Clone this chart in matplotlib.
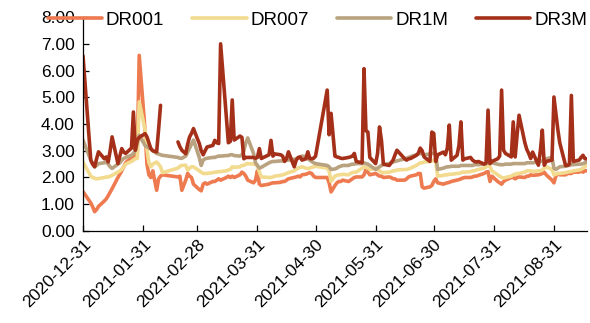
import numpy as np
import pandas as pd
import matplotlib
matplotlib.use("Agg")
import matplotlib.pyplot as plt
from matplotlib.ticker import FormatStrFormatter, MultipleLocator

plt.rcParams["font.family"] = ["Liberation Sans", "DejaVu Sans"]

# Trading calendar: weekdays minus exchange holidays, plus make-up weekend sessions
holidays = ["2021-01-01", "2021-02-11", "2021-02-12", "2021-02-15", "2021-02-16",
            "2021-02-17", "2021-04-05", "2021-05-03", "2021-05-04", "2021-05-05",
            "2021-06-14"]
weekend_sessions = ["2021-02-07", "2021-02-20", "2021-04-25", "2021-05-08"]
dates = pd.bdate_range("2020-12-31", "2021-09-17")
dates = dates.difference(pd.to_datetime(holidays)).union(pd.to_datetime(weekend_sessions))

dr001 = [
    1.47,
    1.05, 0.90, 0.72, 0.80, 0.92, 1.12, 1.20, 1.32, 1.45, 1.58, 2.00, 2.12, 2.25, 2.40,
    2.55, 2.75, 2.80, 2.83, 2.85, 6.57,
    3.77, 2.50, 2.10, 2.00, 2.25, 1.52, 1.95, 2.05, 2.10, 2.02, 2.05, 1.52, 1.90, 2.15,
    2.05, 2.00, 1.75,
    1.55, 1.50, 1.75, 1.80, 1.75, 1.85, 1.85, 1.90, 1.95, 1.90, 2.00, 2.05, 2.00, 2.05,
    2.00, 2.10, 2.20, 2.15, 2.05, 1.90, 1.80, 1.90, 2.25,
    1.75, 1.70, 1.75, 1.78, 1.80, 1.80, 1.82, 1.85, 1.85, 1.90, 1.95, 2.00, 2.02, 2.05,
    2.02, 2.10, 2.12, 2.15, 2.18, 2.15, 2.05, 2.00,
    2.00, 1.80, 1.46, 1.70, 1.80, 1.85, 1.85, 1.90, 1.85, 1.90, 1.95, 2.00, 2.02, 2.02,
    2.10, 2.30, 2.20, 2.10, 2.15,
    2.10, 2.05, 2.05, 2.00, 2.02, 2.00, 1.95, 1.95, 1.90, 1.90, 1.95, 2.02, 2.05, 2.10,
    2.15, 2.15, 1.65, 1.60, 1.65, 1.70, 1.85,
    1.95, 1.80, 1.75, 1.78, 1.80, 1.82, 1.85, 1.90, 1.92, 1.95, 1.98, 2.00, 2.00, 2.02,
    2.05, 2.05, 2.08, 2.15, 2.20, 2.22, 1.85, 2.05,
    1.85, 1.80, 1.75, 1.85, 1.90, 2.00, 2.00, 1.95, 2.00, 2.02, 2.00, 2.05, 2.05, 2.10,
    2.08, 2.10, 2.12, 2.15, 2.20, 2.10, 1.90, 1.80,
    2.05, 2.15, 2.10, 2.10, 2.15, 2.15, 2.15, 2.20, 2.20, 2.25, 2.20, 2.25, 2.25,
]

dr007 = [
    2.58,
    2.05, 2.00, 1.97, 1.95, 1.96, 2.00, 2.02, 2.02, 2.05, 2.08, 2.20, 2.25, 2.30, 2.40,
    2.50, 2.60, 2.65, 2.70, 2.72, 4.83,
    3.80, 3.05, 2.55, 2.40, 2.50, 2.58, 2.50, 2.40, 2.18, 2.35, 2.42, 2.45, 2.46, 2.27,
    2.35, 2.40, 2.40,
    2.25, 2.20, 2.15, 2.15, 2.15, 2.18, 2.20, 2.20, 2.22, 2.22, 2.25, 2.28, 2.30, 2.40,
    2.38, 2.40, 2.45, 2.45, 2.50, 2.52, 2.50, 2.48, 2.45,
    2.20, 2.02, 2.00, 2.00, 2.02, 2.05, 2.08, 2.10, 2.12, 2.15, 2.18, 2.25, 2.30, 2.35,
    2.38, 2.40, 2.35, 2.33, 2.35, 2.38, 2.40, 2.42,
    2.35, 2.25, 1.85, 2.05, 2.08, 2.10, 2.10, 2.12, 2.10, 2.15, 2.18, 2.20, 2.20, 2.35,
    2.40, 2.38, 2.35, 2.30, 2.35,
    2.30, 2.25, 2.20, 2.18, 2.20, 2.22, 2.25, 2.25, 2.28, 2.30, 2.30, 2.32, 2.35, 2.45,
    2.50, 2.55, 2.55, 2.58, 2.60, 2.62, 2.65,
    2.60, 2.05, 2.08, 2.10, 2.10, 2.12, 2.12, 2.15, 2.15, 2.18, 2.20, 2.20, 2.22, 2.25,
    2.25, 2.28, 2.30, 2.35, 2.40, 2.45, 2.40, 2.25,
    2.10, 2.05, 2.00, 1.98, 2.00, 2.05, 2.10, 2.12, 2.15, 2.15, 2.20, 2.25, 2.25, 2.25,
    2.22, 2.25, 2.25, 2.28, 2.35, 2.40, 2.30, 2.10,
    2.12, 2.15, 2.15, 2.18, 2.20, 2.22, 2.22, 2.25, 2.28, 2.30, 2.35, 2.40, 2.50,
]

dr1m = [
    3.40,
    2.65, 2.50, 2.40, 2.45, 2.52, 2.55, 2.58, 2.50, 2.40, 2.34, 2.50, 2.55, 2.65, 2.71,
    2.75, 2.83, 2.90, 3.02, 3.30, 3.58,
    3.20, 3.15, 3.10, 3.08, 3.00, 2.90, 2.88, 2.85, 2.83, 2.75, 2.72, 2.72, 2.80, 2.95,
    3.10, 3.25, 3.40,
    2.75, 2.45, 2.65, 2.70, 2.72, 2.75, 2.75, 2.78, 2.80, 2.80, 2.82, 2.82, 2.85, 2.85,
    2.82, 2.80, 2.85, 3.00, 3.30, 3.48, 2.90, 2.55, 2.45,
    2.35, 2.38, 2.55, 2.58, 2.60, 2.60, 2.62, 2.62, 2.65, 2.65, 2.65, 2.68, 2.70, 2.72,
    2.75, 2.80, 2.78, 2.70, 2.65, 2.60, 2.55, 2.52,
    2.45, 2.40, 2.30, 2.32, 2.35, 2.40, 2.42, 2.45, 2.45, 2.48, 2.50, 2.50, 2.52, 2.52,
    2.55, 2.52, 2.50, 2.45, 2.30,
    2.35, 2.40, 2.45, 2.48, 2.52, 2.55, 2.58, 2.60, 2.62, 2.70, 2.72, 2.75, 2.78, 2.85,
    2.88, 2.90, 2.88, 2.85, 2.88, 2.90, 2.90,
    2.85, 2.30, 2.35, 2.38, 2.40, 2.40, 2.42, 2.42, 2.42, 2.45, 2.45, 2.45, 2.45, 2.45,
    2.48, 2.48, 2.48, 2.50, 2.52, 2.55, 2.58, 2.55,
    2.50, 2.48, 2.48, 2.48, 2.50, 2.50, 2.52, 2.52, 2.52, 2.52, 2.52, 2.55, 2.55, 2.55,
    2.55, 2.58, 2.60, 2.62, 2.65, 2.70, 2.75, 2.35,
    2.30, 2.35, 2.40, 2.42, 2.45, 2.45, 2.48, 2.48, 2.50, 2.50, 2.52, 2.55, 2.58,
]

dr3m = [
    6.55,
    2.65, 2.50, 2.40, 2.70, 2.96, 2.70, 2.77, 2.58, 3.00, 3.52, 2.52, 2.80, 3.08, 2.95,
    2.90, 3.10, 4.45, 3.02, 3.40, 3.50,
    3.64, 3.52, 3.30, 3.08, 3.00, 2.96, 3.80, 4.70, np.nan, 3.33, 3.15, 3.02, 2.89, 3.25,
    3.52, 3.65, 3.83,
    3.27, 3.00, 2.85, 3.00, 3.14, 3.20, 3.39, 3.30, 3.27, 7.00, 4.20, 3.30, 3.35, 4.90,
    3.40, 3.55, 3.50, 2.70, 2.75, 2.75, 2.75, 2.72, 2.75,
    3.08, 2.71, 2.85, 3.39, 2.80, 2.88, 2.85, 2.80, 2.60, 2.70, 2.96, 2.40, 2.65, 2.75,
    2.77, 2.65, 2.70, 2.96, 2.71, 2.70, 2.72, 2.80,
    5.27, 3.60, 4.40, 2.80, 2.77, 2.75, 2.72, 2.71, 2.75, 2.77, 2.80, 2.90, 2.60, 2.55,
    6.07, 3.75, 3.70, 2.75, 2.52,
    2.90, 3.89, 3.39, 2.50, 2.45, 2.55, 2.65, 2.85, 3.02, 2.70, 2.65, 2.70, 2.71, 2.83,
    2.90, 3.10, 3.00, 2.77, 2.60, 3.70, 3.65,
    2.60, 2.85, 2.95, 2.85, 3.10, 3.96, 2.65, 2.83, 3.20, 4.08, 2.65, 2.70, 2.75, 2.65,
    2.60, 2.58, 2.60, 2.50, 2.55, 4.52, 2.52, 2.60,
    2.70, 2.80, 5.27, 3.02, 2.90, 2.77, 4.08, 2.77, 3.60, 4.33, 3.30, 3.05, 2.90, 2.71,
    2.95, 2.46, 3.00, 3.77, 2.46, 2.60, 2.65, 5.01,
    4.40, 3.80, 3.30, 2.45, 2.45, 2.50, 5.07, 2.60, 2.65, 2.75, 2.83, 2.70, 2.70,
]

series = {"DR001": dr001, "DR007": dr007, "DR1M": dr1m, "DR3M": dr3m}
colors = {"DR001": "#EE7A50", "DR007": "#F2DA8E", "DR1M": "#B9A27F", "DR3M": "#A5301A"}
for name, vals in series.items():
    assert len(vals) == len(dates), (name, len(vals), len(dates))

tick_dates = pd.to_datetime(["2020-12-31", "2021-01-31", "2021-02-28", "2021-03-31",
                             "2021-04-30", "2021-05-31", "2021-06-30", "2021-07-31",
                             "2021-08-31"])

fig = plt.figure(figsize=(5.90, 3.23), dpi=100)
ax = fig.add_axes([0.1407, 0.285, 0.854, 0.662])

for name, vals in series.items():
    s = pd.Series(vals, index=dates)
    if name != "DR3M":
        s = s.dropna()
    ax.plot(s.index, s.values, color=colors[name], lw=2.6, label=name,
            solid_joinstyle="round", solid_capstyle="round")

ax.set_ylim(0, 8)
ax.yaxis.set_major_locator(MultipleLocator(1))
ax.yaxis.set_major_formatter(FormatStrFormatter("%.2f"))
ax.set_xlim(pd.Timestamp("2020-12-31"), pd.Timestamp("2021-09-17"))
ax.set_xticks(tick_dates)
ax.set_xticklabels([d.strftime("%Y-%m-%d") for d in tick_dates], rotation=45,
                   ha="right", va="top", rotation_mode="anchor")

for side in ("top", "right"):
    ax.spines[side].set_visible(False)
for side in ("left", "bottom"):
    ax.spines[side].set_color("#000000")
    ax.spines[side].set_linewidth(0.9)
ax.tick_params(axis="both", direction="in", length=4, width=0.9, labelsize=12.5,
               colors="#000000")
ax.tick_params(axis="y", pad=6)
ax.tick_params(axis="x", pad=4)

ax.legend(loc="center", bbox_to_anchor=(0.465, 0.986), ncol=4, frameon=False,
          fontsize=13.5, handlelength=2.9, handletextpad=0.2, columnspacing=1.5,
          borderaxespad=0, borderpad=0)

fig.savefig("out.png", dpi=100)
